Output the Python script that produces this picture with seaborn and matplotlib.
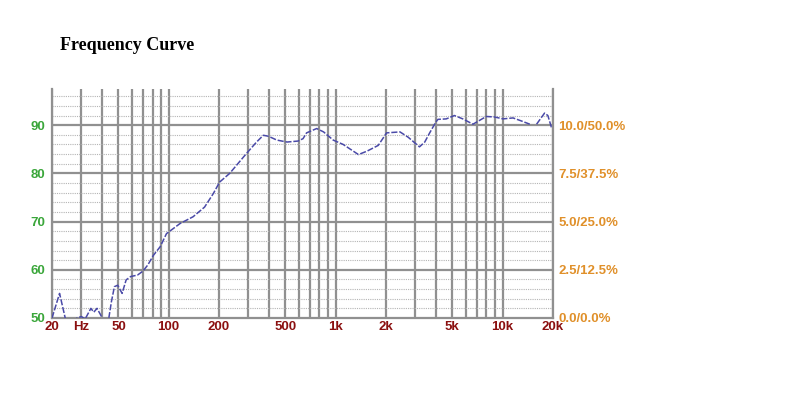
import numpy as np
import pandas as pd
import seaborn as sns
import matplotlib.pyplot as plt
from matplotlib.ticker import FixedLocator, NullLocator

# values
freq = [20, 22.2, 24, 25.5, 27, 28.2, 30, 31.6, 34.2, 35.6, 37.2, 38.9, 40.5,
        43.8, 45.4, 47.3, 49.5, 52.6, 55.6, 59.2, 65, 70, 75, 81, 89, 97, 117,
        140, 164, 185, 202, 232, 292, 336, 369, 396, 445, 512, 595, 638, 670,
        770, 847, 968, 1110, 1370, 1540, 1800, 2020, 2430, 2720, 3180, 3420,
        3660, 3980, 4100, 4600, 5150, 5780, 6650, 7290, 7990, 8950, 10070,
        11560, 12900, 14560,
        15990, 17850, 18680, 19600, 20000]
spl = [50, 55.1, 50, 47, 47, 50, 50.3, 49.8, 52, 51.2, 52, 50.8, 49.6,
       50, 53.4, 56.5, 56.8, 55.1, 57.9, 58.6, 58.9, 59.7, 61, 63, 64.8, 67.5, 69.6,
       71, 73, 75.8, 78.2, 80, 84.1, 86.5, 87.9, 87.7, 86.9, 86.5, 86.7, 87.2, 88.4,
       89.3, 88.6, 86.9, 86, 83.9, 84.6, 85.8, 88.4, 88.6, 87.5, 85.5, 86.5,
       88.4, 90.6, 91.2, 91.3, 92, 91.3, 90.2, 91, 91.8, 91.7, 91.3,
       91.5, 90.9, 90.2,
       90.2, 92.5, 92, 89.6, 89.5]
# the trace has a break between these two parts
segment = [0] * 67 + [1] * 5

x_ticks = [20, 30, 50, 100, 200, 500, 1000, 2000, 5000, 10000, 20000]
x_labels = ["20", "Hz", "50", "100", "200", "500", "1k", "2k", "5k", "10k", "20k"]
y_ticks = [50, 60, 70, 80, 90]
y_labels = ["50", "60", "70", "80", "90"]
right_labels = ["0.0/0.0%", "2.5/12.5%", "5.0/25.0%", "7.5/37.5%", "10.0/50.0%"]

df = pd.DataFrame({"freq": freq, "spl": spl, "seg": segment})

sns.set_style("white")
plt.rcParams["font.family"] = ["Liberation Sans", "DejaVu Sans"]
fig = plt.figure(figsize=(8, 4), dpi=100)
ax = fig.add_axes([0.065, 0.205, 0.626, 0.5725])

# grid: every decade step vertically, 10 dB solid + 2 dB dotted horizontally
vlines = [m * 10 ** e for e in range(1, 5) for m in range(1, 10)]
vlines = [v for v in vlines if 20 <= v <= 20000]
for v in vlines:
    ax.axvline(v, color="#909090", lw=1.6, zorder=1)
for h in np.arange(52, 98, 2):
    if h % 10:
        ax.axhline(h, color="#b4b4b4", lw=0.8, ls=(0, (1, 1)), zorder=1)
for h in y_ticks[1:]:
    ax.axhline(h, color="#909090", lw=1.6, zorder=1)

sns.lineplot(data=df, x="freq", y="spl", units="seg", estimator=None,
             color="#4a4aa8", lw=1.1, ax=ax, zorder=3)
for line in ax.get_lines()[-2:]:
    line.set_linestyle((0, (4, 1.2)))

ax.set_xscale("log")
ax.set_xlim(20, 20000)
ax.set_ylim(50, 97.5)
ax.xaxis.set_major_locator(FixedLocator(x_ticks))
ax.xaxis.set_minor_locator(NullLocator())
ax.set_xticklabels(x_labels)
ax.set_yticks(y_ticks)
ax.set_yticklabels(y_labels)
ax.set_xlabel("")
ax.set_ylabel("")
ax.tick_params(axis="both", length=0)
ax.tick_params(axis="x", pad=2, colors="#8b1010", labelsize=9.5)
ax.tick_params(axis="y", pad=5, colors="#3aa63a", labelsize=9.5)
for lab in ax.get_xticklabels() + ax.get_yticklabels():
    lab.set_fontweight("bold")

for side in ["left", "right", "bottom"]:
    ax.spines[side].set_color("#909090")
    ax.spines[side].set_linewidth(1.6)
ax.spines["top"].set_visible(False)

ax2 = ax.twinx()
ax2.set_ylim(50, 97.5)
ax2.set_yticks(y_ticks)
ax2.set_yticklabels(right_labels)
ax2.tick_params(axis="y", length=0, pad=4, colors="#e0902a", labelsize=9.5)
for lab in ax2.get_yticklabels():
    lab.set_fontweight("bold")
for side in ax2.spines:
    ax2.spines[side].set_visible(False)

fig.text(0.075, 0.885, "Frequency Curve", family="Liberation Serif",
         fontweight="bold", fontsize=13, color="black", va="center", ha="left")

fig.savefig("out.png", dpi=100, facecolor="white")
